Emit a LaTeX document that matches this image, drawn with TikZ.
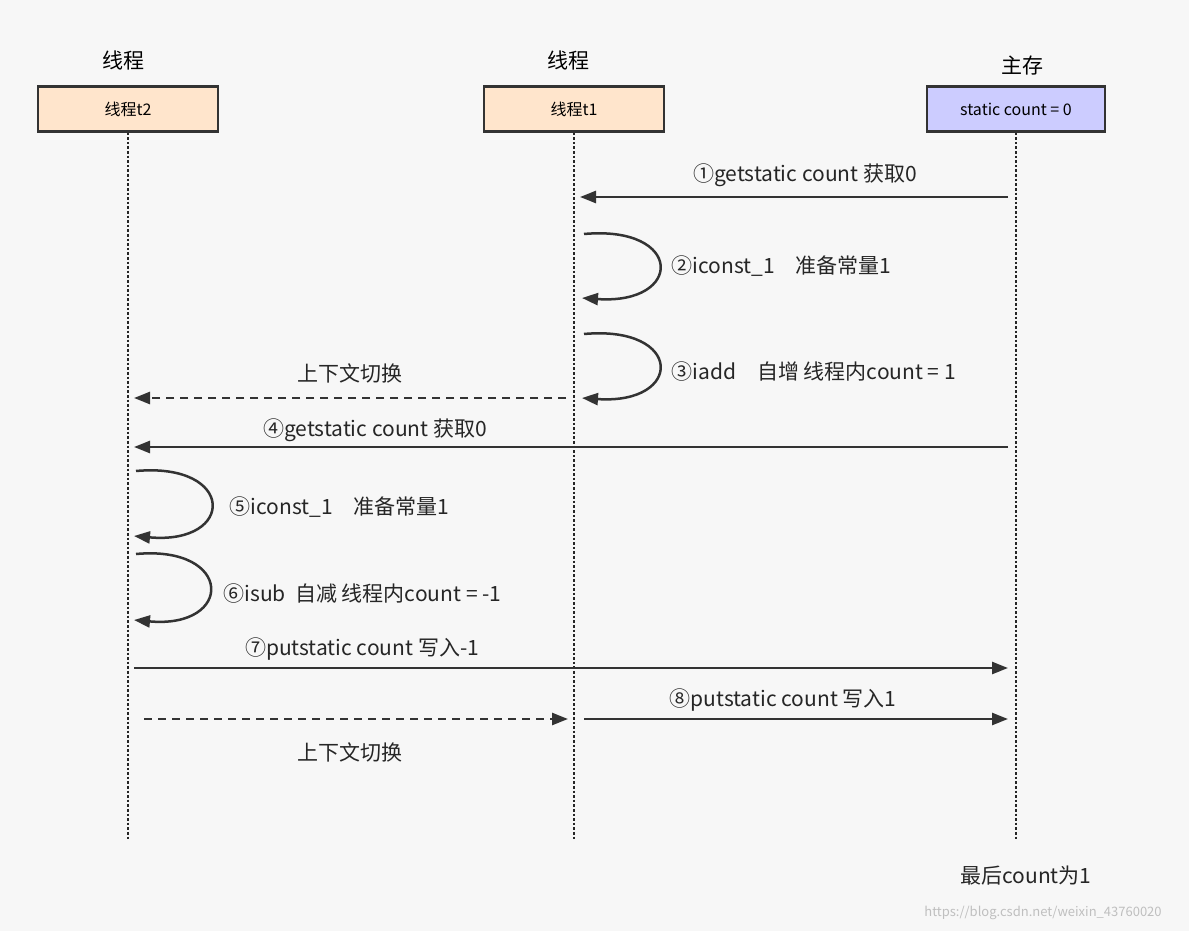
\documentclass[tikz,border=0pt]{standalone}
\usepackage{fontspec}
\setmainfont{Noto Sans CJK SC}
\usetikzlibrary{arrows.meta}
\begin{document}
\begin{tikzpicture}[x=1pt,y=-1pt,
  box/.style={draw=black!80,line width=2.4pt,minimum width=180pt,minimum height=45pt,inner sep=0pt,font=\fontsize{16}{18}\selectfont},
  head/.style={font=\fontsize{21}{24}\selectfont},
  lbl/.style={font=\fontsize{21}{24}\selectfont,text=black!85},
  life/.style={line width=2.6pt,dotted,black!85},
  msg/.style={line width=2.5pt,black!80,-{Triangle[length=16pt,width=12pt]}},
  dmsg/.style={msg,dash pattern=on 8pt off 6pt}]
\fill[white!97!black] (0,0) rectangle (1189,931);
\useasboundingbox (0,0) rectangle (1189,931);
\node[head] (h1) at (123,60) {线程};
\node[head] (h2) at (568,60) {线程};
\node[head] (h3) at (1022,66) {主存};
\node[box,fill=orange!20] (t2) at (128,109) {线程t2};
\node[box,fill=orange!20] (t1) at (574,109) {线程t1};
\node[box,fill=blue!20,minimum width=178pt] (m) at (1016,109) {static count = 0};
\coordinate (e2) at (128,840); \coordinate (e1) at (574,840); \coordinate (em) at (1016,840);
\draw[life] (t2.south) -- (e2);
\draw[life] (t1.south) -- (e1);
\draw[life] (m.south) -- (em);
% 1
\coordinate (a1) at (1008,197); \coordinate (b1) at (580,197);
\draw[msg] (a1) -- (b1);
\node[lbl] (l1) at (805,175) {①getstatic count 获取0};
% 2
\coordinate (a2) at (584,234); \coordinate (b2) at (582,298);
\draw[msg] (a2) .. controls (684,225) and (684,305) .. (b2);
\node[lbl,anchor=west] (l2) at (668,266) {②iconst\_1\quad 准备常量1};
% 3
\coordinate (a3) at (584,334); \coordinate (b3) at (582,398);
\draw[msg] (a3) .. controls (684,325) and (684,405) .. (b3);
\node[lbl,anchor=west] (l3) at (668,372) {③iadd\quad 自增 线程内count = 1};
\coordinate (a4) at (566,398); \coordinate (b4) at (134,398);
\draw[dmsg] (a4) -- (b4);
\node[lbl] (l4) at (350,373) {上下文切换};
% 4
\coordinate (a5) at (1008,447); \coordinate (b5) at (134,447);
\draw[msg] (a5) -- (b5);
\node[lbl] (l5) at (375,430) {④getstatic count 获取0};
% 5
\coordinate (a6) at (136,471); \coordinate (b6) at (134,536);
\draw[msg] (a6) .. controls (236,462) and (236,545) .. (b6);
\node[lbl,anchor=west] (l6) at (226,507) {⑤iconst\_1\quad 准备常量1};
% 6
\coordinate (a7) at (136,554); \coordinate (b7) at (134,620);
\draw[msg] (a7) .. controls (234,545) and (234,629) .. (b7);
\node[lbl,anchor=west] (l7) at (220,594) {⑥isub\ \ 自减 线程内count = -1};
% 7
\coordinate (a8) at (134,668); \coordinate (b8) at (1008,668);
\draw[msg] (a8) -- (b8);
\node[lbl] (l8) at (362,649) {⑦putstatic count 写入-1};
% dashed
\coordinate (a9) at (144,719); \coordinate (b9) at (568,719);
\draw[dmsg] (a9) -- (b9);
\node[lbl] (l9) at (350,752) {上下文切换};
% 8
\coordinate (a10) at (584,719); \coordinate (b10) at (1008,719);
\draw[msg] (a10) -- (b10);
\node[lbl] (l10) at (783,700) {⑧putstatic count 写入1};
\node[lbl] (fin) at (1026,876) {最后count为1};
\node[font=\fontsize{13}{14}\selectfont,text=black!25] (wm) at (1043,913) {https://blog.csdn.net/weixin\_43760020};
\end{tikzpicture}
\end{document}
